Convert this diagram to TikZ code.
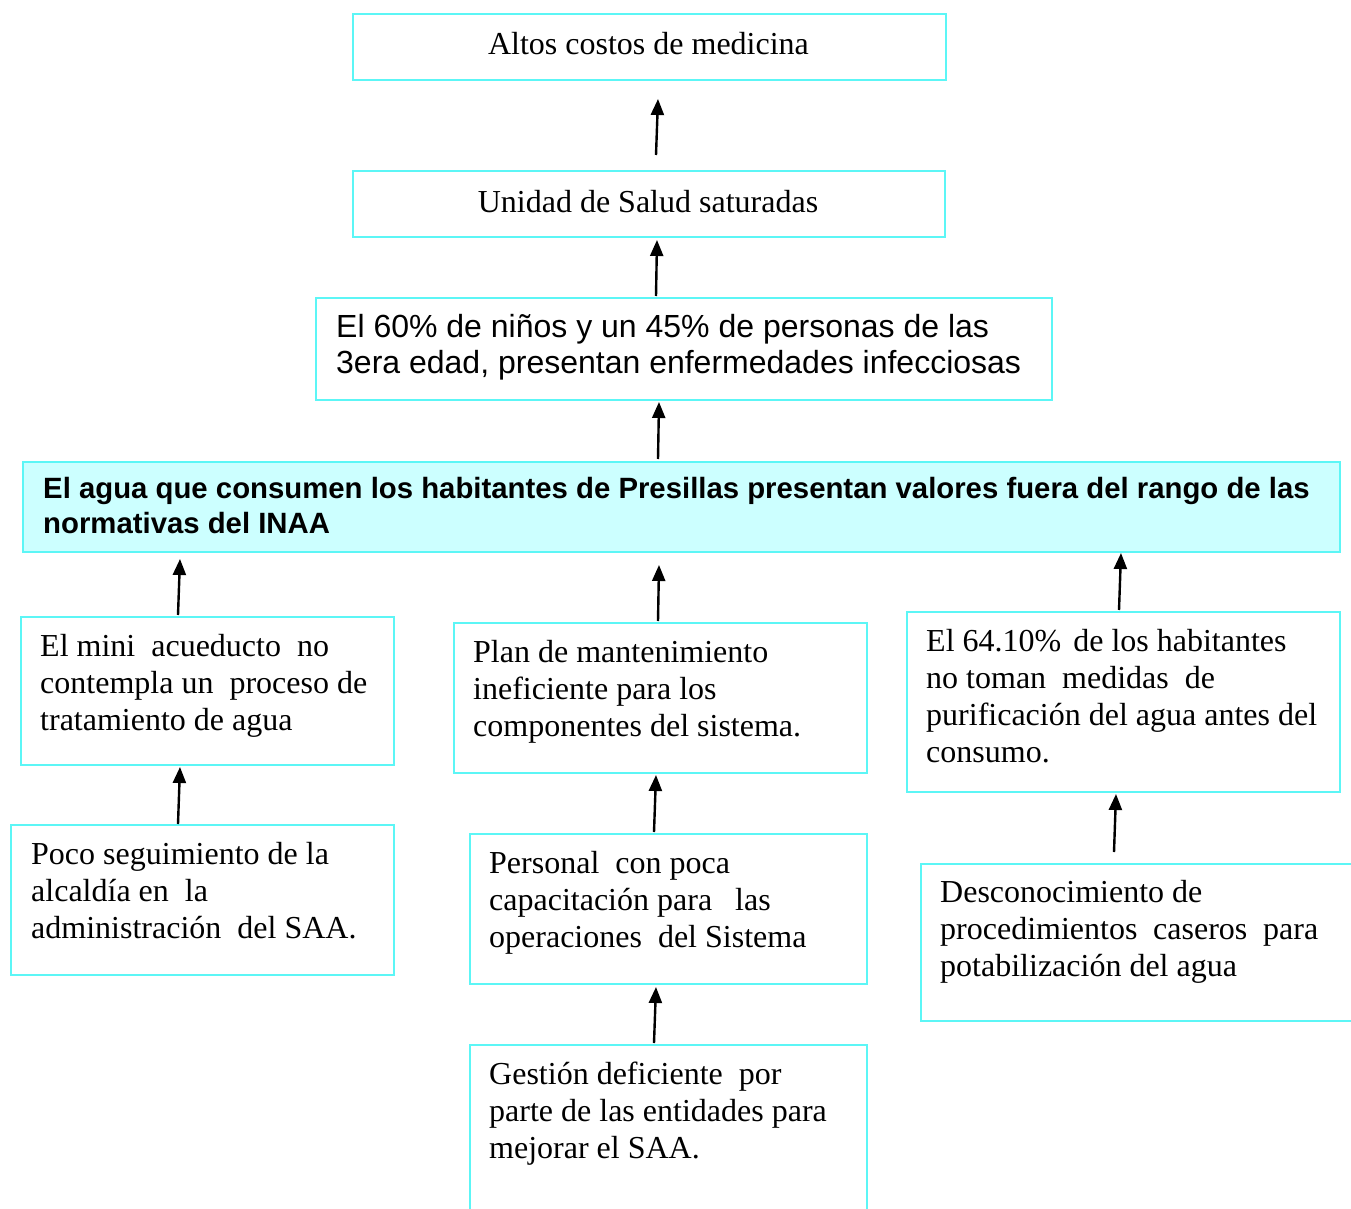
\documentclass[tikz,border=0pt]{standalone}
\usepackage{fontspec}
\setmainfont{Liberation Serif}
\newfontfamily\arialfont{Liberation Sans}
\usetikzlibrary{arrows.meta,calc}

\definecolor{boxcyan}{HTML}{5CF6F6}
\definecolor{keyfill}{HTML}{CCFFFF}

% first-line strut: the text node's top sits 30pt above the first baseline
\newcommand\firstln{\rule{0pt}{30pt}}

\tikzset{
  box/.style={draw=boxcyan, line width=2pt, rectangle, inner sep=0pt, anchor=north west},
  txt/.style={anchor=north west, inner sep=0pt, align=left,
              font=\fontsize{32}{37}\selectfont},
  sanstxt/.style={anchor=north west, inner sep=0pt, align=left,
              font=\arialfont\fontsize{32}{36}\selectfont},
  keytxt/.style={anchor=north west, inner sep=0pt, align=left,
              font=\arialfont\bfseries\fontsize{29.33}{35}\selectfont},
  ctxt/.style={anchor=base, inner sep=0pt, font=\fontsize{32}{37}\selectfont},
  arr/.style={line width=2.4pt, -{Triangle[length=16pt,width=13pt]}},
}

\begin{document}
\begin{tikzpicture}[x=1pt,y=-1pt]
\useasboundingbox (0,0) rectangle (1351,1209);
\clip (0,0) rectangle (1351,1209);

% ---- effects ----
\node[box, minimum width=593pt, minimum height=66pt] (altos) at (352,13) {};
\node[ctxt] (altos-t) at (648.5,55) {Altos costos de medicina};

\node[box, minimum width=592pt, minimum height=66pt] (unidad) at (352,170) {};
\node[ctxt] (unidad-t) at (648,212) {Unidad de Salud saturadas};

\node[box, minimum width=736pt, minimum height=102pt] (el60) at (315,297) {};
\node[sanstxt] (el60-t) at (336,307)
  {\firstln El 60\% de niños y un 45\% de personas de las\\
   3era edad, presentan enfermedades infecciosas};

% ---- central problem ----
\node[box, fill=keyfill, minimum width=1317pt, minimum height=90pt] (main) at (22,461) {};
\node[keytxt] (main-t) at (43,468)
  {\firstln El agua que consumen los habitantes de Presillas presentan valores fuera del rango de las\\
   normativas del INAA};

% ---- causes ----
\node[box, minimum width=373pt, minimum height=148pt] (left1) at (20,616) {};
\node[txt] (left1-t) at (40,626)
  {\firstln El mini~ acueducto~ no\\
   contempla un~ proceso de\\
   tratamiento de agua};

\node[box, minimum width=413pt, minimum height=150pt] (mid1) at (453,622) {};
\node[txt] (mid1-t) at (473,632)
  {\firstln Plan de mantenimiento\\
   ineficiente para los\\
   componentes del sistema.};

\node[box, minimum width=433pt, minimum height=180pt] (right1) at (906,611) {};
\node[txt] (right1-t) at (926,621)
  {\firstln El 64.10\%\hspace{4pt} de los habitantes\\
   no toman~ medidas~ de\\
   purificación del agua antes del\\
   consumo.};

\node[box, minimum width=383pt, minimum height=150pt] (left2) at (10,824) {};
\node[txt] (left2-t) at (31,834)
  {\firstln Poco seguimiento de la\\
   alcaldía en~ la\\
   administración~ del SAA.};

\node[box, minimum width=397pt, minimum height=150pt] (mid2) at (469,833) {};
\node[txt] (mid2-t) at (489,843)
  {\firstln Personal~ con poca\\
   capacitación para\hspace{23pt}las\\
   operaciones~ del Sistema};

\node[box, minimum width=450pt, minimum height=157pt] (right2) at (920,863) {};
\node[txt] (right2-t) at (940,872)
  {\firstln Desconocimiento de\\
   \makebox[378pt][s]{procedimientos caseros para}\\
   potabilización del agua};

\node[box, minimum width=397pt, minimum height=200pt] (mid3) at (469,1044) {};
\node[txt] (mid3-t) at (489,1054)
  {\firstln Gestión deficiente~ por\\
   parte de las entidades para\\
   mejorar el SAA.};

% ---- connectors (cause -> effect) ----
\draw[arr] ($(unidad.north west)+(304,-15)$) -- ($(altos.south west)+(306,18)$);
\draw[arr] ($(el60.north west)+(341,-1)$)    -- ($(unidad.south west)+(305,2)$);
\draw[arr] ($(main.north west)+(636,-2)$)    -- ($(el60.south west)+(344,1)$);
\draw[arr] ($(left1.north west)+(158,-1)$)   -- ($(main.south west)+(158,6)$);
\draw[arr] ($(mid1.north west)+(205,-1)$)    -- ($(main.south west)+(637,12)$);
\draw[arr] ($(right1.north west)+(213,-1)$)  -- ($(main.south west)+(1099,0)$);
\draw[arr] ($(left2.north west)+(168,0)$)    -- ($(left1.south west)+(160,1)$);
\draw[arr] ($(mid2.north west)+(185,-1)$)    -- ($(mid1.south west)+(203,1)$);
\draw[arr] ($(right2.north west)+(194,-11)$) -- ($(right1.south west)+(210,1)$);
\draw[arr] ($(mid3.north west)+(185,-1)$)    -- ($(mid2.south west)+(187,2)$);
\end{tikzpicture}
\end{document}
